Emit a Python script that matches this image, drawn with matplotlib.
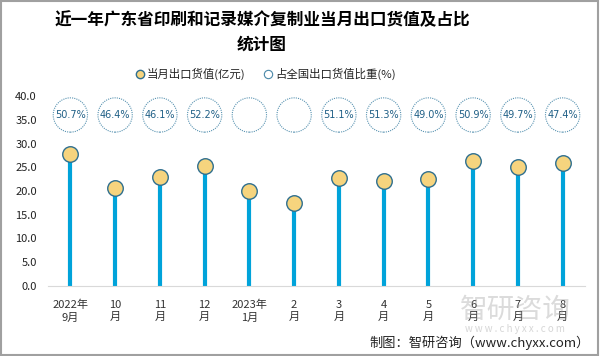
import numpy as np
import matplotlib
matplotlib.use("Agg")
from matplotlib import pyplot as plt
from matplotlib.patches import Rectangle

plt.rcParams['font.family'] = ['Noto Sans CJK SC', 'DejaVu Sans']

months = ["2022年\n9月", "10\n月", "11\n月", "12\n月", "2023年\n1月", "2\n月",
          "3\n月", "4\n月", "5\n月", "6\n月", "7\n月", "8\n月"]
values = [27.7, 20.7, 22.9, 25.3, 20.0, 17.4, 22.8, 22.2, 22.6, 26.3, 25.1, 26.0]
shares = [50.7, 46.4, 46.1, 52.2, None, None, 51.1, 51.3, 49.0, 50.9, 49.7, 47.4]

fig = plt.figure(figsize=(6, 3.56), dpi=100)
ax = fig.add_axes([48 / 600, 1 - 286 / 356, 537 / 600, 190 / 356])

x = np.arange(len(values))
ax.vlines(x, 0, values, color="#00A3DA", lw=3, zorder=2)
ax.scatter(x, values, s=125, color="#F6D47E", edgecolor="#2F6F8F", lw=1, zorder=3)

# share circles at fixed height
ax.scatter(x, [36] * len(x), s=610, facecolor="white", edgecolor="#5A94B2",
           lw=0.8, linestyle=(0, (1, 1)), zorder=3, clip_on=False)
for xi, s in zip(x, shares):
    if s is not None:
        ax.text(xi, 36, f"{s:.1f}%", ha="center", va="center", fontsize=7,
                color="#1F5F86", family=["DejaVu Sans"], zorder=4)

ax.set_xlim(-0.5, len(x) - 0.5)
ax.set_ylim(0, 40)
ax.set_yticks(np.arange(0, 41, 5))
ax.set_yticklabels([f"{v:.1f}" for v in np.arange(0, 41, 5)], fontsize=8, color="#222222")
ax.set_xticks(x)
ax.set_xticklabels(months, fontsize=8, color="#333333", linespacing=1.3)
ax.tick_params(length=0, pad=8)
ax.tick_params(axis="x", pad=10)
for side in ["left", "right", "top"]:
    ax.spines[side].set_visible(False)
ax.spines["bottom"].set_color("#D9D9D9")

fig.text(262 / 600, 1 - 32 / 356, "近一年广东省印刷和记录媒介复制业当月出口货值及占比\n统计图",
         ha="center", va="center", fontsize=12, fontweight="bold", linespacing=1.45)

# legend
fig.add_artist(plt.Line2D([140 / 600], [1 - 74 / 356], marker="o", ms=6, color="#F6D47E",
                          markeredgecolor="#2F6F8F", mew=1, transform=fig.transFigure))
fig.text(147 / 600, 1 - 74 / 356, "当月出口货值(亿元)", va="center", fontsize=8.2, color="#222222")
fig.add_artist(plt.Line2D([268 / 600], [1 - 74 / 356], marker="o", ms=6, color="white",
                          markeredgecolor="#4A88A8", mew=0.8, transform=fig.transFigure))
fig.text(275 / 600, 1 - 74 / 356, "占全国出口货值比重(%)", va="center", fontsize=8.2, color="#222222")

# watermark
fig.text(515 / 600, 1 - 310 / 356, "智研咨询", ha="center", va="center", fontsize=20,
         color="#9A9A9A", alpha=0.35)
fig.text(515 / 600, 1 - 329 / 356, "w w w . c h y x x . c o m", ha="center", va="center",
         fontsize=7, color="#9A9A9A", alpha=0.4)
fig.text(590 / 600, 1 - 343 / 356, "制图：智研咨询（www.chyxx.com）", ha="right", va="center",
         fontsize=9.5, color="#222222")

fig.add_artist(Rectangle((0.002, 0.003), 0.995, 0.994, transform=fig.transFigure,
                         fill=False, edgecolor="#A0A0A0", lw=1.5))

fig.savefig("out.png", dpi=100)
